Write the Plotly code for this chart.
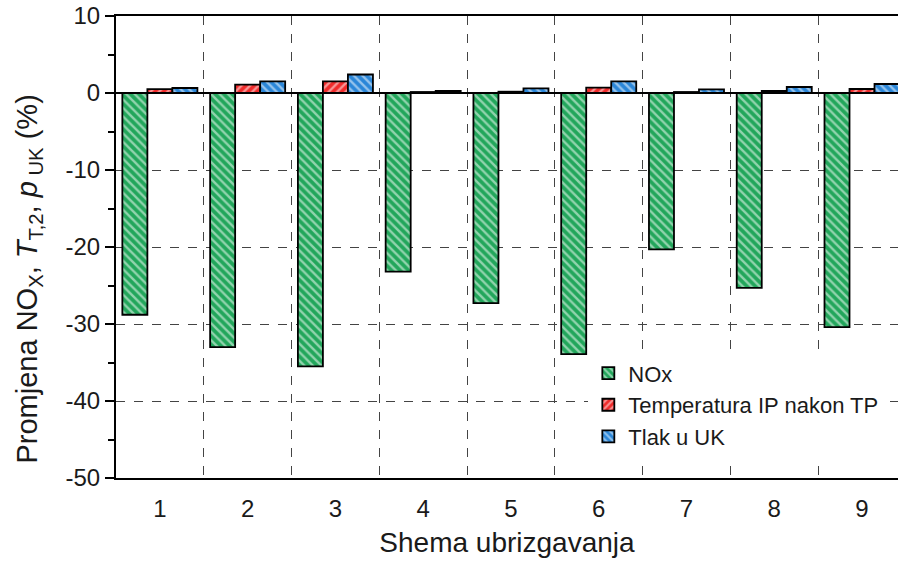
import plotly.graph_objects as go

categories = [1, 2, 3, 4, 5, 6, 7, 8, 9]
nox = [-28.8, -33.0, -35.5, -23.2, -27.3, -33.9, -20.3, -25.3, -30.4]
temp = [0.5, 1.1, 1.5, 0.13, 0.17, 0.7, 0.13, 0.26, 0.52]
tlak = [0.65, 1.5, 2.4, 0.26, 0.6, 1.5, 0.48, 0.78, 1.17]
names = ["NOx", "Temperatura IP nakon TP", "Tlak u UK"]
y_ticks = [10, 0, -10, -20, -30, -40, -50]
y_title = "Promjena NO<sub>X</sub>, <i>T</i><sub>T,2</sub>, <i>p</i><sub> UK</sub> (%)"
x_title = "Shema ubrizgavanja"

FONT = "Liberation Sans, Arial, sans-serif"

series = [
    (nox, names[0], "#22a65b", "\\"),
    (temp, names[1], "#f02a2a", "/"),
    (tlak, names[2], "#2a86d8", "\\"),
]

fig = go.Figure()
for i, (vals, nm, col, shp) in enumerate(series):
    fig.add_trace(go.Bar(
        x=categories, y=vals, name=nm, legendgroup=str(i),
        marker=dict(color=col, line=dict(color="black", width=1.8),
                    pattern=dict(shape=shp, bgcolor=col, fgcolor="white",
                                 size=6, solidity=0.4)),
    ))

fig.update_layout(
    width=898, height=566,
    margin=dict(l=116, r=0, t=16, b=88),
    plot_bgcolor="white", paper_bgcolor="white",
    barmode="group", bargap=0.145, bargroupgap=0,
    font=dict(family=FONT, color="#1a1a1a", size=24),
    showlegend=True,
    legend=dict(x=0.604, y=0.272, xanchor="left", yanchor="top",
                bgcolor="white", font=dict(size=22, family=FONT, color="#1a1a1a"),
                tracegroupgap=0, itemwidth=30),
    annotations=[dict(text=y_title, textangle=-90, xref="paper", yref="paper",
                      x=-0.111, y=0.43, xanchor="center", yanchor="middle",
                      showarrow=False, font=dict(size=29, family=FONT, color="#1a1a1a"))],
)

fig.update_xaxes(
    range=[0.5, 9.41], tickvals=categories, ticktext=[str(c) for c in categories],
    showgrid=False, showline=True, linecolor="black", linewidth=2, mirror=True,
    ticks="", tickfont=dict(size=24), ticklabelstandoff=8, automargin=False,
    title=dict(text=x_title, font=dict(size=28), standoff=12),
    minor=dict(tickvals=[1.5, 2.5, 3.5, 4.5, 5.5, 6.5, 7.5, 8.5], showgrid=True,
               gridcolor="#444", griddash="dash", gridwidth=1.2, ticks=""),
    zeroline=False,
)
fig.update_yaxes(
    range=[-50, 10], tickvals=y_ticks, ticktext=[str(v) for v in y_ticks],
    showgrid=True, gridcolor="#444", griddash="dash", gridwidth=1.2,
    showline=True, linecolor="black", linewidth=2, automargin=False,
    ticks="outside", ticklen=9, tickwidth=1.5, tickcolor="black",
    tickfont=dict(size=24), ticklabeloverflow="allow",
    minor=dict(dtick=5, tick0=0, ticks="outside", ticklen=6, tickwidth=1.5,
               tickcolor="black", showgrid=False),
    zeroline=True, zerolinecolor="black", zerolinewidth=2,
)

fig.write_html("out.html", config={"displayModeBar": False},
               post_script="document.body.style.margin='0';document.body.style.overflow='hidden';")
